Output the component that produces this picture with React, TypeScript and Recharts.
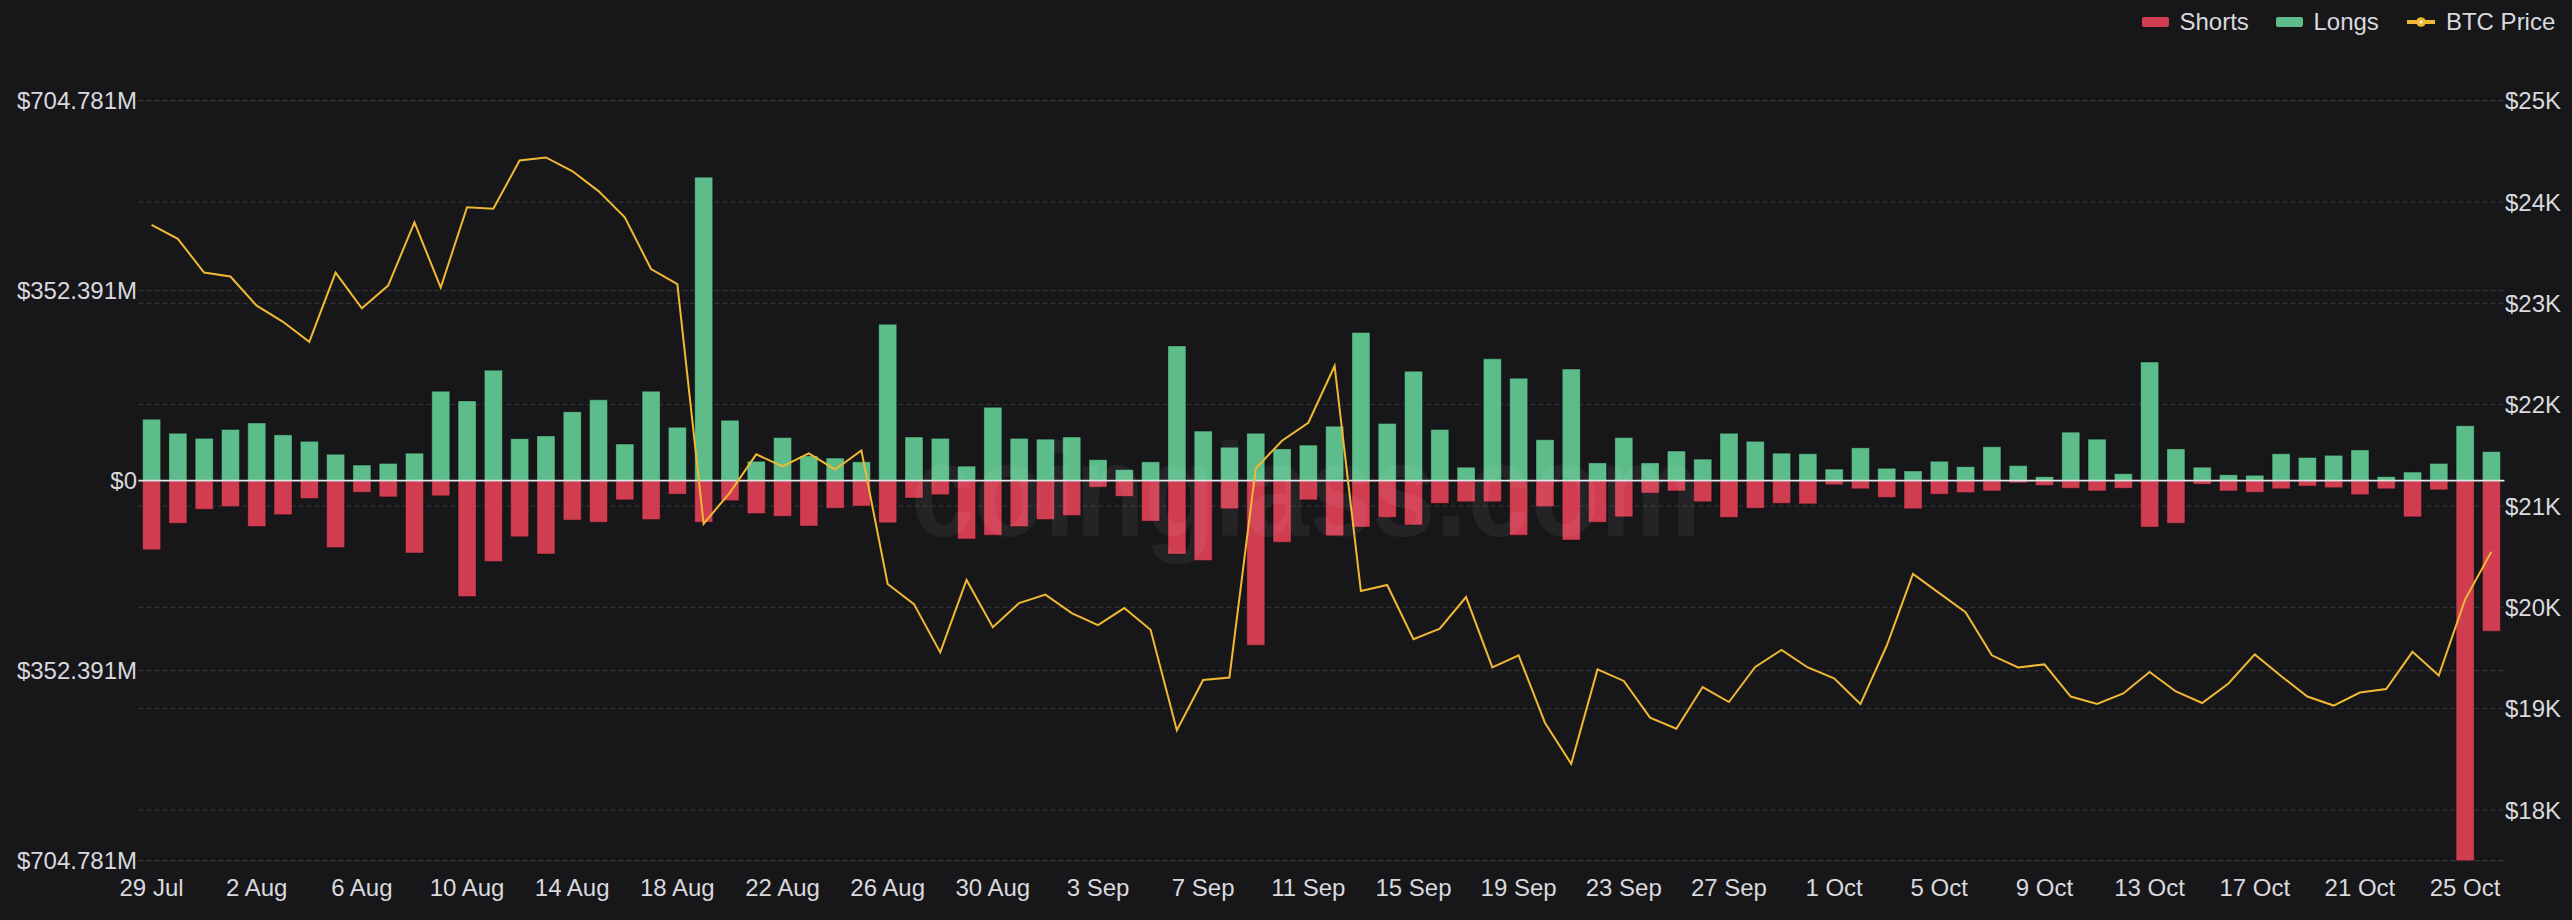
import React from 'react';
import { ComposedChart, Bar, Line, XAxis, YAxis, CartesianGrid, ReferenceLine, Legend } from 'recharts';

const dates = [
  '29 Jul', '30 Jul', '31 Jul', '1 Aug', '2 Aug', '3 Aug', '4 Aug', '5 Aug', '6 Aug', '7 Aug',
  '8 Aug', '9 Aug', '10 Aug', '11 Aug', '12 Aug', '13 Aug', '14 Aug', '15 Aug', '16 Aug', '17 Aug',
  '18 Aug', '19 Aug', '20 Aug', '21 Aug', '22 Aug', '23 Aug', '24 Aug', '25 Aug', '26 Aug', '27 Aug',
  '28 Aug', '29 Aug', '30 Aug', '31 Aug', '1 Sep', '2 Sep', '3 Sep', '4 Sep', '5 Sep', '6 Sep',
  '7 Sep', '8 Sep', '9 Sep', '10 Sep', '11 Sep', '12 Sep', '13 Sep', '14 Sep', '15 Sep', '16 Sep',
  '17 Sep', '18 Sep', '19 Sep', '20 Sep', '21 Sep', '22 Sep', '23 Sep', '24 Sep', '25 Sep', '26 Sep',
  '27 Sep', '28 Sep', '29 Sep', '30 Sep', '1 Oct', '2 Oct', '3 Oct', '4 Oct', '5 Oct', '6 Oct',
  '7 Oct', '8 Oct', '9 Oct', '10 Oct', '11 Oct', '12 Oct', '13 Oct', '14 Oct', '15 Oct', '16 Oct',
  '17 Oct', '18 Oct', '19 Oct', '20 Oct', '21 Oct', '22 Oct', '23 Oct', '24 Oct', '25 Oct', '26 Oct',
];

// Long liquidations, $M
const longs = [
  114, 88, 78.5, 95, 107, 85, 73, 49, 29, 32,
  51, 166, 148, 205, 78, 83, 128, 150, 68, 166,
  99, 563, 112, 36, 80, 46, 42, 35, 290, 81,
  78.5, 27, 136, 78.5, 77, 81, 39, 20.5, 35, 250,
  92, 62, 88, 59, 66, 101, 275, 106, 203, 95,
  25, 226, 190, 76, 207, 33, 80, 33, 55, 40,
  88, 73, 51, 50, 21.5, 61, 23, 18, 36, 26,
  63, 28, 7.5, 90, 77, 13, 220, 59, 25, 11,
  10, 50, 43, 47, 57, 7.5, 16, 32, 102, 54,
];

// Short liquidations, $M (drawn below zero)
const shorts = [
  128, 79, 53, 48, 85, 63, 33, 124, 21.5, 30,
  134, 28, 215, 150, 104, 136, 73, 77, 35.5, 72,
  25, 77, 37, 61, 66, 84, 51, 47, 78, 32,
  26, 108, 101, 85, 72, 64.5, 12, 29, 75, 136,
  148, 52, 305, 114, 35.5, 102, 86, 68, 82, 42,
  39, 39, 101, 48, 110, 77, 67, 23, 19, 39,
  68, 51, 42, 43, 7.5, 15, 31, 52, 25, 22,
  19, 4, 9, 14, 19, 14, 86, 79, 6.5, 19,
  21.5, 15, 10, 13, 26, 15, 67, 17, 704.781, 279,
];

// BTC price, USD
const btcPrice = [
  23775, 23637, 23304, 23265, 22977, 22818, 22620, 23304, 22952, 23175,
  23800, 23156, 23949, 23934, 24410, 24440, 24306, 24108, 23850, 23339,
  23190, 20825, 21133, 21510, 21391, 21520, 21361, 21549, 20231, 20032,
  19556, 20270, 19804, 20042, 20126, 19943, 19824, 19993, 19779, 18788,
  19283, 19308, 21371, 21644, 21822, 22382, 20161, 20221, 19685, 19789,
  20102, 19407, 19527, 18862, 18456, 19388, 19274, 18912, 18803, 19214,
  19066, 19412, 19581, 19407, 19299, 19046, 19621, 20330, 20141, 19953,
  19527, 19407, 19437, 19120, 19046, 19150, 19363, 19170, 19056, 19249,
  19536, 19323, 19120, 19031, 19160, 19194, 19561, 19328, 20077, 20548,
];

const leftTicks = [-704.781, -352.391, 0, 352.391, 704.781];
const rightTicks = [18000, 19000, 20000, 21000, 22000, 23000, 24000, 25000];
const rightDomain = [17500, 25000];

const BG = '#17171a';
const GREEN = '#5cbd8a';
const RED = '#d03d50';
const YELLOW = '#f0b833';
const TEXT = '#d9d9de';
const GRID = '#38383c';
const FONT = '"Liberation Sans", Arial, Helvetica, sans-serif';

const data = dates.map((d, i) => ({
  date: d,
  longs: longs[i],
  shorts: -shorts[i],
  price: btcPrice[i],
}));

const fmtLeft = (v: number) => (v === 0 ? '$0' : `$${Math.abs(v).toFixed(3)}M`);
const fmtRight = (v: number) => `$${v / 1000}K`;

const tickStyle = { fill: TEXT, fontSize: 24, fontFamily: FONT };

const LegendContent = () => (
  <div
    style={{
      display: 'flex',
      justifyContent: 'flex-end',
      alignItems: 'center',
      height: 28,
      fontFamily: FONT,
      fontSize: 24,
      color: TEXT,
      whiteSpace: 'nowrap',
    }}
  >
    <span style={{ display: 'inline-block', width: 27, height: 10, borderRadius: 2, background: RED, marginRight: 10.6 }} />
    <span style={{ marginRight: 27 }}>Shorts</span>
    <span style={{ display: 'inline-block', width: 27, height: 10, borderRadius: 2, background: GREEN, marginRight: 10.6 }} />
    <span style={{ marginRight: 28.5 }}>Longs</span>
    <svg width={28} height={12} style={{ marginRight: 10.6 }}>
      <line x1={0} y1={6} x2={28} y2={6} stroke={YELLOW} strokeWidth={4} />
      <circle cx={14} cy={6} r={4.8} fill={YELLOW} />
      <circle cx={14} cy={6} r={1.5} fill="#ffffff" />
    </svg>
    <span>BTC Price</span>
  </div>
);

export default function App() {
  return (
    <div style={{ position: 'fixed', left: 0, top: 0, width: 2572, height: 920, background: BG, overflow: 'hidden' }}>
      <ComposedChart
        width={2572}
        height={920}
        data={data}
        stackOffset="sign"
        barCategoryGap="16%"
        margin={{ top: 72.7, right: 0, bottom: 0, left: 0 }}
      >
        <CartesianGrid vertical={false} stroke={GRID} strokeDasharray="5 3" />
        <CartesianGrid vertical={false} yAxisId="right" stroke={GRID} strokeDasharray="5 3" />
        <XAxis
          dataKey="date"
          interval={3}
          tickLine={false}
          axisLine={false}
          tickSize={0}
          tickMargin={18}
          height={59.3}
          tick={tickStyle}
        />
        <YAxis
          domain={[-704.781, 704.781]}
          ticks={leftTicks}
          interval={0}
          tickFormatter={fmtLeft}
          tickLine={false}
          axisLine={false}
          tickSize={0}
          tickMargin={1.4}
          width={138.4}
          tick={tickStyle}
          allowDataOverflow
        />
        <YAxis
          yAxisId="right"
          orientation="right"
          domain={rightDomain}
          ticks={rightTicks}
          interval={0}
          tickFormatter={fmtRight}
          tickLine={false}
          axisLine={false}
          tickSize={0}
          tickMargin={0.5}
          width={67.5}
          tick={{ ...tickStyle, textAnchor: 'start' }}
          allowDataOverflow
        />
        <Legend
          verticalAlign="top"
          align="right"
          content={LegendContent}
          wrapperStyle={{ top: 7.7, right: 16.7 }}
        />
        <Bar dataKey="shorts" name="Shorts" stackId="liq" fill={RED} stroke="rgba(0,0,0,0.35)" strokeWidth={1} isAnimationActive={false} />
        <Bar dataKey="longs" name="Longs" stackId="liq" fill={GREEN} stroke="rgba(0,0,0,0.35)" strokeWidth={1} isAnimationActive={false} />
        <ReferenceLine y={0} stroke="#e4e4e8" strokeWidth={1.8} />
        <Line
          yAxisId="right"
          dataKey="price"
          name="BTC Price"
          type="linear"
          stroke={YELLOW}
          strokeWidth={2}
          dot={false}
          activeDot={false}
          isAnimationActive={false}
        />
      </ComposedChart>
      <svg
        width={2572}
        height={920}
        style={{ position: 'absolute', left: 0, top: 0, pointerEvents: 'none' }}
      >
        <text
          x={911}
          y={536}
          textLength={790}
          lengthAdjust="spacingAndGlyphs"
          fontSize={132}
          fontWeight="bold"
          fontFamily={FONT}
          fill="#ffffff"
          fillOpacity={0.06}
        >
          coinglass.com
        </text>
      </svg>
    </div>
  );
}
